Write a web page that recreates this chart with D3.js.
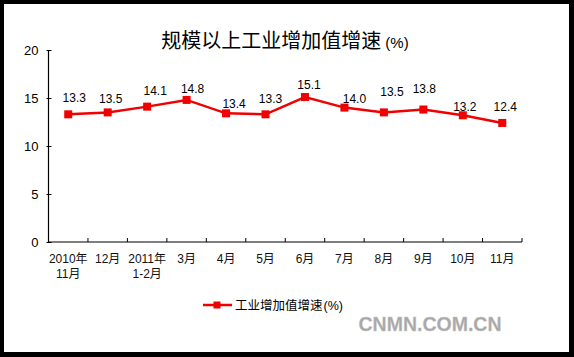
<!DOCTYPE html>
<html><head><meta charset="utf-8">
<script src="https://cdn.jsdelivr.net/npm/d3@7"></script>
<style>html,body{margin:0;padding:0;background:#000;}svg{display:block;}</style>
</head><body>
<svg id="chart" width="574" height="357"></svg>
<script>
const categories = [["2010年","11月"],["12月"],["2011年","1-2月"],["3月"],["4月"],["5月"],["6月"],["7月"],["8月"],["9月"],["10月"],["11月"]];
const growth = [13.3, 13.5, 14.1, 14.8, 13.4, 13.3, 15.1, 14.0, 13.5, 13.8, 13.2, 12.4];
const yTicks = [0, 5, 10, 15, 20];
const titleText = "规模以上工业增加值增速";
const legendText = "工业增加值增速";
// hand-placed label nudges (layout only)
const labelNudge = [[6,-17],[3,-14],[8,-16],[6,-11],[8,-10],[5,-16],[4,-12],[10,-9],[8,-21],[1,-21],[2,-9],[3,-16]];

const svg = d3.select("#chart");
const red = "#f00000";
const cjk = "'Liberation Sans','Noto Sans CJK SC',sans-serif";

svg.append("rect").attr("width",574).attr("height",357).attr("fill","#000");
svg.append("rect").attr("x",4).attr("y",4).attr("width",565).attr("height",348).attr("fill","#fff");

const x = d3.scaleBand().domain(d3.range(categories.length)).range([48.5, 522]);
const y = d3.scaleLinear().domain([0, 20]).range([242, 50]);

// Y axis
const yAxis = svg.append("g").attr("transform","translate(48.5,0)")
  .call(d3.axisLeft(y).tickValues(yTicks).tickSize(3).tickFormat(d3.format("d")));
yAxis.select(".domain").attr("d","M0,50V242").attr("stroke","#000").attr("stroke-width",1.2);
yAxis.selectAll(".tick line").attr("x1",-2).attr("x2",3).attr("stroke","#000");
yAxis.selectAll(".tick text").attr("x",-10).attr("font-size",13).attr("font-family","'Liberation Sans',Arial,sans-serif").attr("fill","#000");

// X axis
const xAxis = svg.append("g").attr("transform","translate(0,242)");
xAxis.append("line").attr("x1",48.5).attr("x2",522).attr("y1",0).attr("y2",0).attr("stroke","#000").attr("stroke-width",1.2);
const edges = d3.range(categories.length+1).map(i => i < categories.length ? x(i) : x.range()[1]);
xAxis.selectAll("line.tk").data(edges).join("line").attr("class","tk")
  .attr("x1",d=>d).attr("x2",d=>d).attr("y1",-4).attr("y2",0).attr("stroke","#000");
const xl = xAxis.selectAll("text.xl").data(categories).join("text").attr("class","xl")
  .attr("text-anchor","middle").attr("font-size",12).attr("font-family",cjk).attr("fill","#111")
  .attr("transform",(d,i)=>`translate(${x(i)+x.bandwidth()/2},0)`);
xl.selectAll("tspan").data(d=>d).join("tspan").attr("x",0).attr("y",(d,j)=>20.5+j*15).text(d=>d);

// line
const cx = i => x(i) + x.bandwidth()/2;
svg.append("path").datum(growth)
  .attr("d", d3.line().x((d,i)=>cx(i)).y(d=>y(d)))
  .attr("fill","none").attr("stroke",red).attr("stroke-width",2.5);
svg.selectAll("rect.mk").data(growth).join("rect").attr("class","mk")
  .attr("x",(d,i)=>cx(i)-4).attr("y",d=>y(d)-4).attr("width",8).attr("height",8).attr("fill",red);

// data labels
svg.selectAll("text.lbl").data(growth).join("text").attr("class","lbl")
  .attr("x",(d,i)=>cx(i)+labelNudge[i][0]).attr("y",(d,i)=>y(d)+labelNudge[i][1])
  .attr("dy","0.36em").attr("text-anchor","middle")
  .attr("font-size",12).attr("font-family","'Liberation Sans',Arial,sans-serif").attr("fill","#000")
  .text(d=>d3.format(".1f")(d));

// title
const t = svg.append("text").attr("x",285).attr("y",42).attr("dy","0.36em").attr("text-anchor","middle")
  .attr("font-family","'Noto Sans CJK SC',sans-serif").attr("fill","#000");
t.append("tspan").attr("font-size",20).text(titleText);
t.append("tspan").attr("font-size",15).attr("dx",4).attr("font-family","'Liberation Sans',sans-serif").text("(%)");

// legend
const lg = svg.append("g").attr("transform","translate(0,305)");
lg.append("line").attr("x1",203).attr("x2",232).attr("y1",0).attr("y2",0).attr("stroke",red).attr("stroke-width",2.5);
lg.append("rect").attr("x",213.5).attr("y",-3.5).attr("width",7).attr("height",7).attr("fill",red);
const lt = lg.append("text").attr("x",235).attr("y",0).attr("dy","0.36em").attr("font-size",12.5).attr("font-family",cjk).attr("fill","#000");
lt.append("tspan").attr("font-family","'Noto Sans CJK SC',sans-serif").text(legendText);
lt.append("tspan").attr("font-size",12.5).attr("dx",1).text("(%)");

// watermark
svg.append("text").attr("x",430).attr("y",323.5).attr("dy","0.36em").attr("text-anchor","middle")
  .attr("font-size",19.5).attr("font-weight","bold").attr("font-family","'Liberation Sans',Arial,sans-serif")
  .attr("fill","#a8a8a8").attr("stroke","#c8c8c8").attr("stroke-width",0.3).text("CNMN.COM.CN");
</script>
</body></html>
